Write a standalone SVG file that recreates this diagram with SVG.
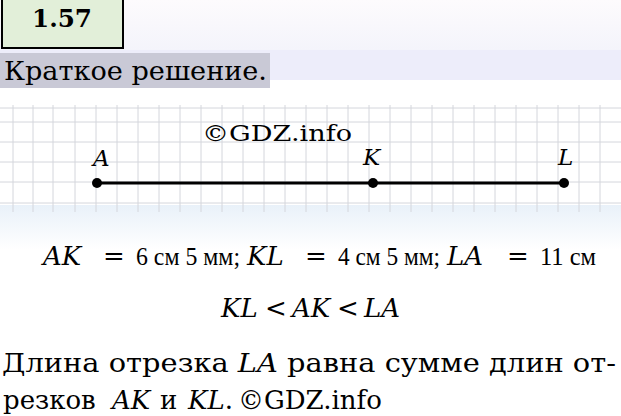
<svg xmlns="http://www.w3.org/2000/svg" width="621" height="416" viewBox="0 0 621 416">
<defs>
<style>
.serif{font-family:"DejaVu Serif","Liberation Serif",serif;fill:#000}
.m{font-family:"DejaVu Serif","Liberation Serif",serif;fill:#000;font-size:26px}
.mn{font-family:"Liberation Serif","DejaVu Serif",serif;fill:#000;font-size:25px}
.v{font-style:italic}
.o{text-anchor:middle}
.lbl{font-family:"DejaVu Serif","Liberation Serif",serif;font-style:italic;font-size:23px;fill:#000}
.grid line{stroke:#d4d6dc;stroke-width:1}
.pt{fill:#000}
</style>
<linearGradient id="bg" x1="0" y1="0" x2="0" y2="1">
<stop offset="0" stop-color="#fdfbfd"/>
<stop offset="1" stop-color="#f4f4fb"/>
</linearGradient>
<linearGradient id="bg2" x1="0" y1="0" x2="0" y2="1">
<stop offset="0" stop-color="#e9f1f9"/>
<stop offset="1" stop-color="#ffffff"/>
</linearGradient>
</defs>
<rect x="0" y="0" width="621" height="416" fill="#ffffff"/>
<rect x="0" y="0" width="621" height="50" fill="url(#bg)"/>
<rect x="0" y="50" width="621" height="30" fill="#ededfa"/>
<rect x="0" y="205" width="621" height="45" fill="url(#bg2)"/>

<g id="grid" class="grid">
<line x1="0" y1="108" x2="621" y2="108"/>
<line x1="0" y1="122" x2="621" y2="122"/>
<line x1="0" y1="142" x2="621" y2="142"/>
<line x1="0" y1="162" x2="621" y2="162"/>
<line x1="0" y1="182" x2="621" y2="182"/>
<line x1="0" y1="203" x2="621" y2="203"/>
<line x1="13" y1="105" x2="13" y2="212"/>
<line x1="33" y1="105" x2="33" y2="212"/>
<line x1="53" y1="105" x2="53" y2="212"/>
<line x1="75" y1="105" x2="75" y2="212"/>
<line x1="96" y1="105" x2="96" y2="212"/>
<line x1="117" y1="105" x2="117" y2="212"/>
<line x1="138" y1="105" x2="138" y2="212"/>
<line x1="159" y1="105" x2="159" y2="212"/>
<line x1="180" y1="105" x2="180" y2="212"/>
<line x1="201" y1="105" x2="201" y2="212"/>
<line x1="222" y1="105" x2="222" y2="212"/>
<line x1="243" y1="105" x2="243" y2="212"/>
<line x1="264" y1="105" x2="264" y2="212"/>
<line x1="285" y1="105" x2="285" y2="212"/>
<line x1="306" y1="105" x2="306" y2="212"/>
<line x1="327" y1="105" x2="327" y2="212"/>
<line x1="348" y1="105" x2="348" y2="212"/>
<line x1="369" y1="105" x2="369" y2="212"/>
<line x1="390" y1="105" x2="390" y2="212"/>
<line x1="411" y1="105" x2="411" y2="212"/>
<line x1="432" y1="105" x2="432" y2="212"/>
<line x1="453" y1="105" x2="453" y2="212"/>
<line x1="474" y1="105" x2="474" y2="212"/>
<line x1="495" y1="105" x2="495" y2="212"/>
<line x1="516" y1="105" x2="516" y2="212"/>
<line x1="537" y1="105" x2="537" y2="212"/>
<line x1="558" y1="105" x2="558" y2="212"/>
<line x1="579" y1="105" x2="579" y2="212"/>
<line x1="600" y1="105" x2="600" y2="212"/>
</g>

<g id="title">
<rect x="2" y="-2" width="121" height="50" fill="#e2efd9" stroke="#000" stroke-width="2"/>
<text class="serif" x="32" y="27" font-size="25" font-weight="bold" textLength="60" lengthAdjust="spacingAndGlyphs">1.57</text>
</g>

<g id="subtitle">
<rect x="0" y="53" width="270" height="35" fill="#c9c9d6"/>
<text class="serif" x="4" y="80" font-size="26" textLength="263" lengthAdjust="spacingAndGlyphs">Краткое решение.</text>
</g>

<text class="serif" x="202" y="141" font-size="23" textLength="150" lengthAdjust="spacingAndGlyphs">©GDZ.info</text>

<g id="connectors">
<line x1="97" y1="183" x2="564" y2="183" stroke="#000" stroke-width="3"/>
</g>
<g id="pointA">
<circle class="pt" cx="97" cy="183" r="5"/>
<text class="lbl" x="93" y="166">A</text>
</g>
<g id="pointK">
<circle class="pt" cx="373" cy="183" r="5"/>
<text class="lbl" x="363" y="165">K</text>
</g>
<g id="pointL">
<circle class="pt" cx="564" cy="183" r="5"/>
<text class="lbl" x="558" y="165">L</text>
</g>

<g id="equation1">
<text class="m v" x="43" y="265">AK</text>
<text class="m o" x="114" y="265">=</text>
<text class="mn" x="136" y="265" textLength="104" lengthAdjust="spacingAndGlyphs">6 см 5 мм;</text>
<text class="m v" x="247" y="265">KL</text>
<text class="m o" x="316" y="265">=</text>
<text class="mn" x="338" y="265" textLength="102" lengthAdjust="spacingAndGlyphs">4 см 5 мм;</text>
<text class="m v" x="447" y="265">LA</text>
<text class="m o" x="518" y="265">=</text>
<text class="mn" x="540" y="265" textLength="56" lengthAdjust="spacingAndGlyphs">11 см</text>
</g>

<g id="equation2">
<text class="m v" x="221" y="317">KL</text>
<text class="m o" x="276" y="317">&lt;</text>
<text class="m v" x="292" y="317">AK</text>
<text class="m o" x="348" y="317">&lt;</text>
<text class="m v" x="364" y="317">LA</text>
</g>

<text class="serif" x="2" y="372" font-size="26" textLength="614" lengthAdjust="spacingAndGlyphs">Длина отрезка <tspan font-style="italic">LA</tspan> равна сумме длин от-</text>
<text class="serif" y="409" font-size="26"><tspan x="3">резков</tspan><tspan x="112" font-style="italic">AK</tspan><tspan x="160">и</tspan><tspan x="188" font-style="italic">KL</tspan>.<tspan x="238">©GDZ.info</tspan></text>
</svg>
